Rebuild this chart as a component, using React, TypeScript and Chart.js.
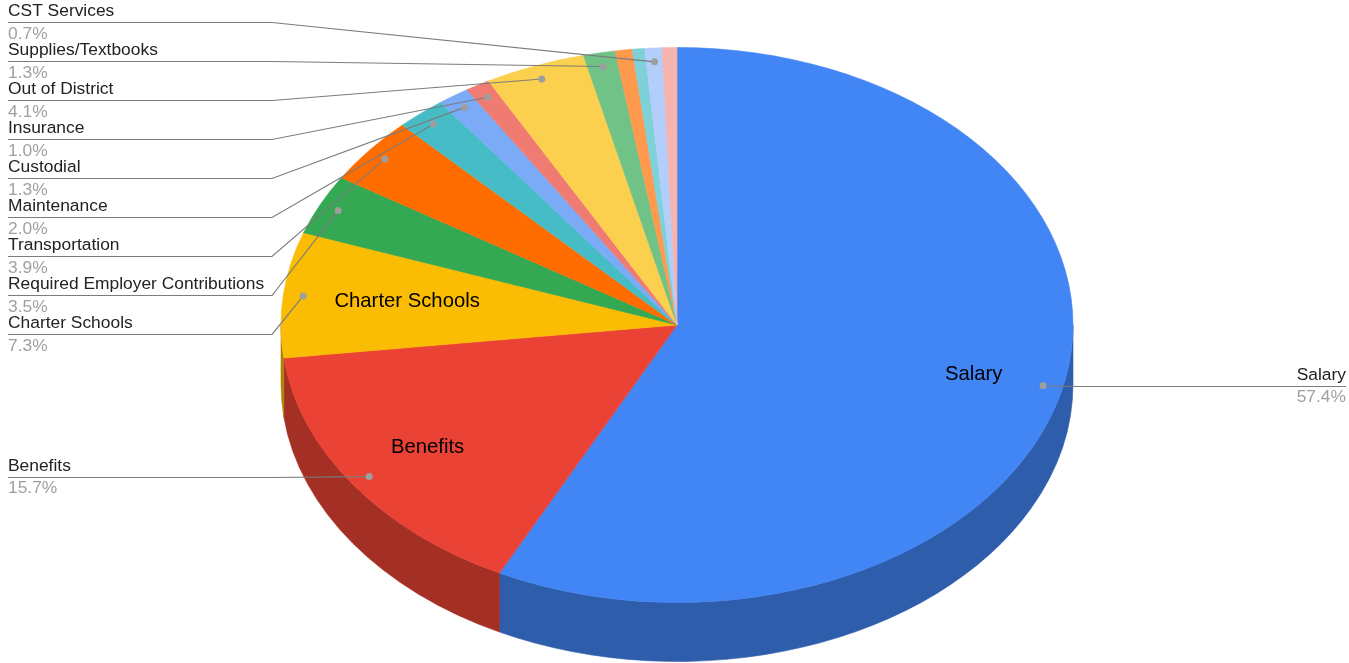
import React, { useEffect, useRef } from "react";
import { Chart, registerables } from "chart.js";

Chart.register(...registerables);

// ---- data ----
const categories = [
  "Salary",
  "Benefits",
  "Charter Schools",
  "Required Employer Contributions",
  "Transportation",
  "Maintenance",
  "Custodial",
  "Insurance",
  "Out of District",
  "Supplies/Textbooks",
  "",
  "",
  "CST Services",
  "",
];
const values = [57.4, 15.7, 7.3, 3.5, 3.9, 2.0, 1.3, 1.0, 4.1, 1.3, 0.7, 0.5, 0.7, 0.6];
const colors = [
  "#4285F4",
  "#EA4335",
  "#FBBC04",
  "#34A853",
  "#FF6D01",
  "#46BDC6",
  "#7BAAF7",
  "#F07B72",
  "#FCD04F",
  "#71C287",
  "#FF994D",
  "#7ED1D7",
  "#B3CEFB",
  "#F7B4AE",
];

// ---- layout (screen geometry of the tilted pie) ----
const W = 1349;
const H = 663;
const CX = 677;
const CY = 325;
const RX = 396;
const RY = 277.5;
const DEPTH = 59;
const DOT_F = 0.95;
const INNER_F = 0.77;
const INNER_MARGIN = 52;
const GAP = 39;
const MIN_LINE_Y = 22;
const MAX_LINE_Y = H - 24;
const BEND = 272;
const FONT = '"Liberation Sans", Arial, Helvetica, sans-serif';

function darken(hex: string, f = 0.7) {
  const n = parseInt(hex.slice(1), 16);
  const r = Math.round(((n >> 16) & 255) * f);
  const g = Math.round(((n >> 8) & 255) * f);
  const b = Math.round((n & 255) * f);
  return `rgb(${r},${g},${b})`;
}

type Lab = { i: number; dx: number; dy: number; ideal: number; y: number };

function layoutSide(items: Lab[]) {
  items.sort((a, b) => a.ideal - b.ideal);
  let clusters = items.map((it) => ({ items: [it], top: it.ideal }));
  const place = (c: { items: Lab[]; top: number }) => {
    const n = c.items.length;
    const mean = c.items.reduce((s, it) => s + it.ideal, 0) / n;
    let top = mean - ((n - 1) * GAP) / 2;
    if (top + (n - 1) * GAP > MAX_LINE_Y) top = MAX_LINE_Y - (n - 1) * GAP;
    if (top < MIN_LINE_Y) top = MIN_LINE_Y;
    c.top = top;
  };
  clusters.forEach(place);
  let merged = true;
  while (merged) {
    merged = false;
    for (let k = 0; k < clusters.length - 1; k++) {
      const a = clusters[k];
      const b = clusters[k + 1];
      if (a.top + a.items.length * GAP > b.top) {
        const c = { items: a.items.concat(b.items), top: 0 };
        place(c);
        clusters.splice(k, 2, c);
        merged = true;
        break;
      }
    }
  }
  clusters.forEach((c) => c.items.forEach((it, j) => (it.y = c.top + j * GAP)));
}

const pie3d = {
  id: "pie3d",
  beforeDatasetsDraw(chart: any) {
    const ctx: CanvasRenderingContext2D = chart.ctx;
    const arcs = chart.getDatasetMeta(0).data as any[];
    // extruded side walls (front half only)
    ctx.save();
    arcs.forEach((arc, i) => {
      const a1 = Math.max(arc.startAngle, 0);
      const a2 = Math.min(arc.endAngle, Math.PI);
      if (a2 <= a1) return;
      ctx.beginPath();
      ctx.ellipse(CX, CY, RX, RY, 0, a1, a2);
      ctx.lineTo(CX + RX * Math.cos(a2), CY + DEPTH + RY * Math.sin(a2));
      ctx.ellipse(CX, CY + DEPTH, RX, RY, 0, a2, a1, true);
      ctx.closePath();
      const c = darken(colors[i]);
      ctx.fillStyle = c;
      ctx.strokeStyle = c;
      ctx.lineWidth = 0.6;
      ctx.fill();
      ctx.stroke();
    });
    ctx.restore();
    // squash the top face into an ellipse
    const a0 = arcs[0];
    ctx.save();
    ctx.translate(CX, CY);
    ctx.scale(RX / a0.outerRadius, RY / a0.outerRadius);
    ctx.translate(-a0.x, -a0.y);
  },
  afterDatasetsDraw(chart: any) {
    chart.ctx.restore();
  },
  afterDraw(chart: any) {
    const ctx: CanvasRenderingContext2D = chart.ctx;
    const arcs = chart.getDatasetMeta(0).data as any[];
    const total = values.reduce((s, v) => s + v, 0);
    const left: Lab[] = [];
    const right: Lab[] = [];
    arcs.forEach((arc, i) => {
      if (!categories[i]) return;
      const mid = (arc.startAngle + arc.endAngle) / 2;
      const dx = CX + RX * DOT_F * Math.cos(mid);
      const dy = CY + RY * DOT_F * Math.sin(mid);
      const lab = { i, dx, dy, ideal: dy, y: dy };
      if (Math.cos(mid) >= 0) right.push(lab);
      else left.push(lab);
    });
    layoutSide(left);
    layoutSide(right);

    ctx.save();
    // inside labels
    ctx.font = `20.3px ${FONT}`;
    ctx.fillStyle = "#000";
    ctx.textAlign = "center";
    ctx.textBaseline = "middle";
    arcs.forEach((arc, i) => {
      if (!categories[i] || (values[i] / total) * 100 < 5) return;
      const mid = (arc.startAngle + arc.endAngle) / 2;
      let x = CX + RX * INNER_F * Math.cos(mid);
      const y = CY + RY * INNER_F * Math.sin(mid);
      const half = ctx.measureText(categories[i]).width / 2;
      const t = Math.min(1, Math.abs(y - CY) / RY);
      const edge = RX * Math.sqrt(1 - t * t);
      if (x - half < CX - edge + INNER_MARGIN) x = CX - edge + INNER_MARGIN + half;
      if (x + half > CX + edge - INNER_MARGIN) x = CX + edge - INNER_MARGIN - half;
      ctx.fillText(categories[i], x, y);
    });

    const drawLab = (lab: Lab, isLeft: boolean) => {
      const y = Math.round(lab.y) + 0.5;
      ctx.strokeStyle = "#7c7c7c";
      ctx.lineWidth = 1.2;
      ctx.beginPath();
      if (isLeft) {
        ctx.moveTo(8, y);
        ctx.lineTo(Math.min(BEND, lab.dx), y);
      } else {
        ctx.moveTo(W - 3, y);
        ctx.lineTo(Math.max(W - BEND, lab.dx), y);
      }
      ctx.lineTo(lab.dx, lab.dy);
      ctx.stroke();
      ctx.fillStyle = "#9e9e9e";
      ctx.beginPath();
      ctx.arc(lab.dx, lab.dy, 3.5, 0, Math.PI * 2);
      ctx.fill();

      ctx.textBaseline = "alphabetic";
      ctx.textAlign = isLeft ? "left" : "right";
      const tx = isLeft ? 8 : W - 3;
      ctx.font = `17.4px ${FONT}`;
      ctx.fillStyle = "#222";
      ctx.fillText(categories[lab.i], tx, lab.y - 6);
      ctx.fillStyle = "#a0a0a0";
      ctx.fillText(((values[lab.i] / total) * 100).toFixed(1) + "%", tx, lab.y + 16.5);
    };
    left.forEach((l) => drawLab(l, true));
    right.forEach((l) => drawLab(l, false));
    ctx.restore();
  },
};

export default function App() {
  const ref = useRef<HTMLCanvasElement | null>(null);
  useEffect(() => {
    document.body.style.margin = "0";
    const chart = new Chart(ref.current as HTMLCanvasElement, {
      type: "pie",
      data: {
        labels: categories,
        datasets: [
          {
            data: values,
            backgroundColor: colors,
            borderColor: colors,
            borderWidth: 0.6,
            clip: false as any,
          },
        ],
      },
      options: {
        animation: false,
        responsive: false,
        events: [],
        layout: { padding: 0 },
        plugins: { legend: { display: false }, tooltip: { enabled: false } },
      },
      plugins: [pie3d],
    });
    return () => chart.destroy();
  }, []);
  return (
    <div style={{ position: "fixed", left: 0, top: 0, width: W, height: H, background: "#fff" }}>
      <canvas ref={ref} width={W} height={H} style={{ display: "block" }} />
    </div>
  );
}
